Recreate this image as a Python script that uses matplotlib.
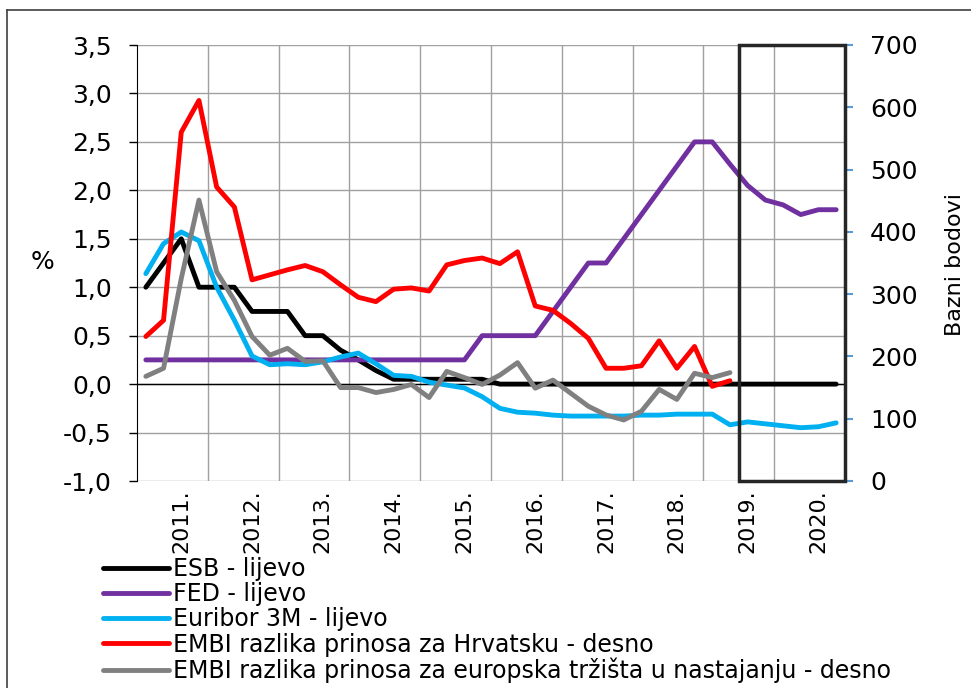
import numpy as np
import matplotlib
matplotlib.use('Agg')
import matplotlib.pyplot as plt
from matplotlib.lines import Line2D
from matplotlib.patches import Rectangle

# kvartalni podaci 2011. - 2020.
godine = ['2011.', '2012.', '2013.', '2014.', '2015.', '2016.', '2017.', '2018.', '2019.', '2020.']

esb = [1.0, 1.25, 1.5, 1.0, 1.0, 1.0, 0.75, 0.75, 0.75, 0.5,
       0.5, 0.35, 0.25, 0.14, 0.05, 0.05, 0.05, 0.05, 0.05, 0.05,
       0.0, 0.0, 0.0, 0.0, 0.0, 0.0, 0.0, 0.0, 0.0, 0.0,
       0.0, 0.0, 0.0, 0.0, 0.0, 0.0, 0.0, 0.0, 0.0, 0.0]
fed = [0.25, 0.25, 0.25, 0.25, 0.25, 0.25, 0.25, 0.25, 0.25, 0.25,
       0.25, 0.25, 0.25, 0.25, 0.25, 0.25, 0.25, 0.25, 0.25, 0.5,
       0.5, 0.5, 0.5, 0.75, 1.0, 1.25, 1.25, 1.5, 1.75, 2.0,
       2.25, 2.5, 2.5, 2.27, 2.05, 1.9, 1.85, 1.75, 1.8, 1.8]
euribor = [1.14, 1.45, 1.57, 1.48, 1.0, 0.66, 0.29, 0.2, 0.21, 0.2,
           0.23, 0.28, 0.32, 0.21, 0.09, 0.08, 0.02, -0.01, -0.04, -0.13,
           -0.25, -0.29, -0.3, -0.32, -0.33, -0.33, -0.33, -0.33, -0.32, -0.32,
           -0.31, -0.31, -0.31, -0.42, -0.39, -0.41, -0.43, -0.45, -0.44, -0.4]
embi_hr = [232, 258, 560, 611, 472, 440, 323, 331, 339, 346,
           336, 315, 295, 288, 308, 310, 305, 347, 354, 358,
           349, 368, 281, 274, 253, 229, 181, 181, 185, 225,
           181, 216, 152, 161]
embi_eu = [168, 181, 325, 451, 336, 290, 232, 202, 213, 192,
           193, 150, 150, 142, 147, 155, 134, 176, 166, 155,
           170, 190, 149, 162, 141, 120, 106, 98, 112, 147,
           131, 173, 166, 174]

lijevo_ticks = [-1.0, -0.5, 0.0, 0.5, 1.0, 1.5, 2.0, 2.5, 3.0, 3.5]
desno_ticks = [0, 100, 200, 300, 400, 500, 600, 700]

x = np.arange(len(esb))
x_hr = np.arange(len(embi_hr))

fig = plt.figure(figsize=(9.71, 6.88), dpi=100)
ax = fig.add_axes([137 / 971, 1 - 481 / 688, 708 / 971, 436 / 688])
ax2 = ax.twinx()

lw = 3.5
kw = dict(lw=lw, solid_capstyle='round', solid_joinstyle='round')
l1, = ax.plot(x, esb, color='black', zorder=3, **kw)
l2, = ax.plot(x, fed, color='#7030A0', zorder=3, **kw)
l3, = ax.plot(x, euribor, color='#00B0F0', zorder=3, **kw)
l4, = ax2.plot(x_hr, embi_hr, color='#FF0000', zorder=3, **kw)
l5, = ax2.plot(x_hr, embi_eu, color='#808080', zorder=3, **kw)

# lijeva os
ax.set_xlim(-0.5, len(esb) - 0.5)
ax.set_ylim(-1.0, 3.5)
ax.set_yticks(lijevo_ticks)
ax.set_yticklabels([('%.1f' % v).replace('.', ',') for v in lijevo_ticks], fontsize=18)
ax.tick_params(axis='y', length=6, width=1, color='black', pad=12)
for yv in lijevo_ticks:
    ax.axhline(yv, color='#A0A0A0', lw=1, zorder=1)
for k in range(1, len(godine)):
    ax.axvline(4 * k - 0.5, color='#A0A0A0', lw=1, zorder=1)
ax.axhline(0, color='black', lw=1, zorder=2)
ax.grid(False)

ax.set_xticks([4 * k + 2 for k in range(len(godine))])
ax.set_xticklabels(godine, rotation=90, fontsize=16, va='top')
ax.tick_params(axis='x', length=0, pad=6)

for s in ['top', 'right', 'bottom']:
    ax.spines[s].set_visible(False)
ax.spines['left'].set_color('black')

# desna os
ax2.set_ylim(0, 700)
ax2.set_yticks(desno_ticks)
ax2.set_yticklabels([str(v) for v in desno_ticks], fontsize=18)
ax2.tick_params(axis='y', length=6, width=1.5, color='#5B9BD5', pad=12)
for s in ['top', 'left', 'bottom', 'right']:
    ax2.spines[s].set_visible(False)

# okvir za prognozu
ax2.add_patch(Rectangle((33.5, 0), 6, 700, fill=False, edgecolor='#262626',
                        lw=2.5, clip_on=False, zorder=10))

fig.text(42 / 971, 1 - 262 / 688, '%', fontsize=18, ha='center', va='center')
fig.text(955 / 971, 1 - 265 / 688, 'Bazni bodovi', fontsize=16, rotation=90,
         ha='center', va='center')

labels = ['ESB - lijevo', 'FED - lijevo', 'Euribor 3M - lijevo',
          'EMBI razlika prinosa za Hrvatsku - desno',
          'EMBI razlika prinosa za europska tržišta u nastajanju - desno']
fig.legend([l1, l2, l3, l4, l5], labels, loc='upper left',
           bbox_to_anchor=(103 / 971, 1 - 557 / 688), bbox_transform=fig.transFigure,
           frameon=False, fontsize=17, handlelength=2.8, handletextpad=0.15,
           labelspacing=0.05, borderpad=0, borderaxespad=0)

# okvir slike
fig.add_artist(Line2D([7 / 971, 1], [1 - 10 / 688, 1 - 10 / 688], transform=fig.transFigure,
                      color='#404040', lw=1.2))
fig.add_artist(Line2D([7 / 971, 7 / 971], [0, 1 - 10 / 688], transform=fig.transFigure,
                      color='#404040', lw=1.2))

fig.savefig('out.png', dpi=100)
